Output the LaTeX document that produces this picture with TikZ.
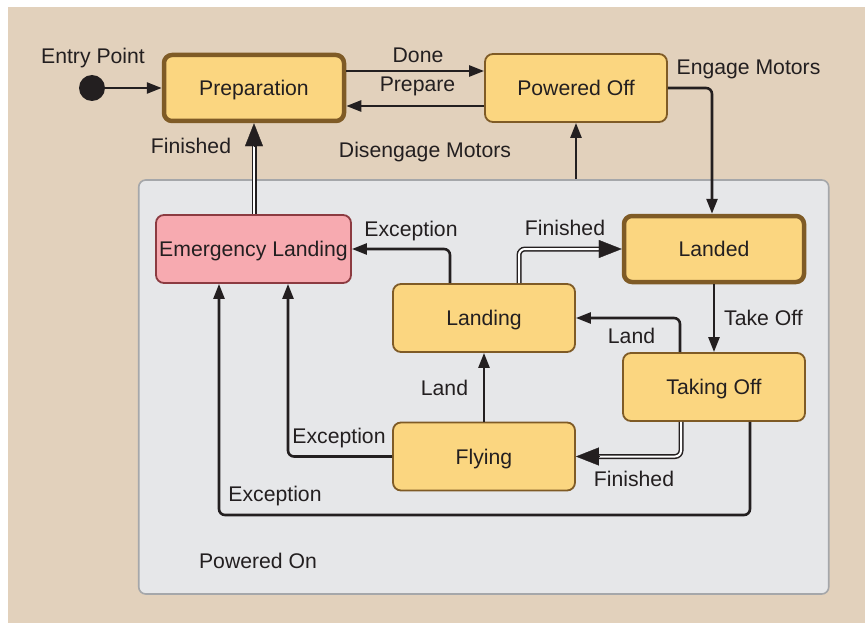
\documentclass[tikz,border=0pt]{standalone}
\usepackage{fontspec}
\setmainfont{Liberation Sans}
\usetikzlibrary{arrows.meta}

\definecolor{bgbeige}{HTML}{E2D1BC}
\definecolor{ongray}{HTML}{E6E7E9}
\definecolor{onborder}{HTML}{A5A7AA}
\definecolor{stfill}{HTML}{FBD680}
\definecolor{stborder}{HTML}{7F5B26}
\definecolor{emfill}{HTML}{F7AAB0}
\definecolor{emborder}{HTML}{8C3B41}
\definecolor{ink}{HTML}{231F20}

\tikzset{
  statebox/.style={draw=stborder, line width=1.8pt, fill=stfill, rounded corners=8pt,
    minimum width=182pt, minimum height=68pt, inner sep=0pt,
    text height=15pt, text depth=0pt},
  thickstate/.style={statebox, line width=4.5pt, minimum width=180pt, minimum height=66pt},
  emergbox/.style={statebox, draw=emborder, fill=emfill, minimum width=195pt},
  lbl/.style={inner sep=0pt, text height=15pt, text depth=0pt},
  arr/.style={draw=ink, line width=2.6pt, rounded corners=6pt,
    -{Triangle[length=15pt,width=11pt]}},
  % completion transitions: hollow double line, head added separately
  dbl/.style={draw=ink, line width=1.5pt, double=white, double distance=2pt,
    rounded corners=6pt, shorten >=21pt},
  dblhead/.style={draw=ink, fill=ink, line width=0.3pt,
    -{Triangle[length=23pt,width=18pt]}}
}

\begin{document}
\begin{tikzpicture}[x=1pt, y=-1pt, font=\fontsize{21.2pt}{25pt}\selectfont, text=ink]
  % canvas
  \useasboundingbox (0,0) rectangle (865,623);
  \fill[white] (0,0) rectangle (865,623);
  \fill[bgbeige] (8,7) rectangle (865,623);

  % composite state
  \node[draw=onborder, fill=ongray, line width=1.6pt, rounded corners=7pt,
        minimum width=690pt, minimum height=414pt, inner sep=0pt]
        (poweredon) at (483.75,387) {};
  \node[lbl] (onlabel) at (258,561) {Powered On};

  % entry point
  \node[circle, fill=ink, minimum size=26pt, inner sep=0pt] (entry) at (92,88) {};
  \node[lbl] (entrylabel) at (93,56) {Entry Point};

  % states
  \node[thickstate] (prep)    at (254,88)    {Preparation};
  \node[statebox]   (off)     at (576,88)    {Powered Off};
  \node[thickstate] (landed)  at (714,249)   {Landed};
  \node[emergbox]   (emerg)   at (253.5,249) {Emergency Landing};
  \node[statebox]   (landing) at (484,318)   {Landing};
  \node[statebox]   (takeoff) at (714,387)   {Taking Off};
  \node[statebox]   (flying)  at (484,456.5) {Flying};

  % transitions
  \draw[arr] (entry) -- (prep);
  \draw[arr] ([yshift=17pt]prep.east) -- ([yshift=17pt]off.west);
  \draw[arr] ([yshift=-18pt]off.west) -- ([yshift=-18pt]prep.east);
  \draw[arr] (off.east) -| ([xshift=-2pt]landed.north);
  \draw[arr] (off.south |- poweredon.north) -- (off.south);
  \draw[arr] ([xshift=-34pt]landing.north) |- (emerg.east);
  \draw[arr] (landed.south) -- (takeoff.north);
  \draw[arr] ([xshift=-34pt]takeoff.north) |- (landing.east);
  \draw[arr] (flying.north) -- (landing.south);
  \draw[arr] (flying.west) -| ([xshift=34.5pt]emerg.south);
  \coordinate (exbottom) at (484,515);
  \draw[arr] ([xshift=36pt]takeoff.south) |- (exbottom) -| ([xshift=-34.5pt]emerg.south);

  % completion transitions
  \draw[dbl] (emerg.north -| prep.south) -- (prep.south);
  \draw[dblhead] ([yshift=-23pt]prep.south) -- (prep.south);
  \draw[dbl] ([xshift=35pt]landing.north) |- (landed.west);
  \draw[dblhead] ([xshift=-23pt]landed.west) -- (landed.west);
  \draw[dbl] ([xshift=-33pt]takeoff.south) |- (flying.east);
  \draw[dblhead] ([xshift=23pt]flying.east) -- (flying.east);

  % transition labels
  \node[lbl] (tdone)    at (418,55.5)  {Done};
  \node[lbl] (tprepare) at (417.5,84.5) {Prepare};
  \node[lbl] (tengage)  at (748.5,66.7)  {Engage Motors};
  \node[lbl] (tdiseng)  at (425,149.7) {Disengage Motors};
  \node[lbl] (tfin1)    at (191,145.7) {Finished};
  \node[lbl] (texc1)    at (411,228.8) {Exception};
  \node[lbl] (tfin2)    at (565,228)   {Finished};
  \node[lbl] (ttake)    at (763.5,317.5) {Take Off};
  \node[lbl] (tland1)   at (631.5,335.5) {Land};
  \node[lbl] (tland2)   at (444.5,388) {Land};
  \node[lbl] (texc2)    at (339,435.8) {Exception};
  \node[lbl] (tfin3)    at (634,478.8) {Finished};
  \node[lbl] (texc3)    at (275,494)   {Exception};
\end{tikzpicture}
\end{document}
